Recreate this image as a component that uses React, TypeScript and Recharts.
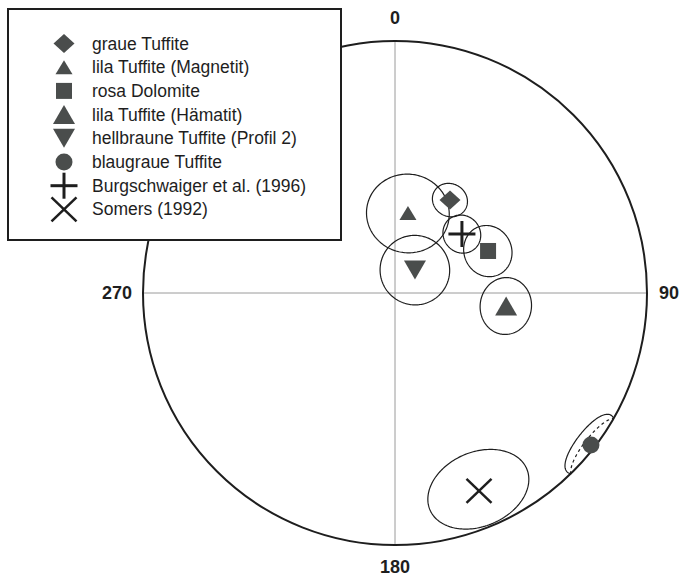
import React from 'react';
import {
  ScatterChart,
  Scatter,
  XAxis,
  YAxis,
  ReferenceLine,
  ReferenceDot,
  Legend,
} from 'recharts';

// paleomagnetic mean directions, equal-area net (lower hemisphere)
const names = [
  'graue Tuffite',
  'lila Tuffite (Magnetit)',
  'rosa Dolomite',
  'lila Tuffite (Hämatit)',
  'hellbraune Tuffite (Profil 2)',
  'blaugraue Tuffite',
  'Burgschwaiger et al. (1996)',
  'Somers (1992)',
];
const declinations = [30.6, 9.2, 65.7, 96.7, 41.0, 127.8, 48.6, 157.0];
const inclinations = [54.7, 63.7, 56.7, 53.4, 80.2, 1.8, 61.0, 15.8];
// confidence cone: dp (along inclination) and dm (along declination), degrees
const dpValues = [5.5, 13.0, 8.0, 8.7, 11.2, 6.5, 6.1, 15.0];
const dmValues = [5.5, 13.0, 8.0, 8.7, 11.2, 8.3, 6.1, 13.5];
const directionLabels = ['0', '90', '180', '270'];

const symbolFor: Record<string, string> = {
  'graue Tuffite': 'diamond',
  'lila Tuffite (Magnetit)': 'triangleSmall',
  'rosa Dolomite': 'square',
  'lila Tuffite (Hämatit)': 'triangle',
  'hellbraune Tuffite (Profil 2)': 'triangleDown',
  'blaugraue Tuffite': 'circle',
  'Burgschwaiger et al. (1996)': 'plus',
  'Somers (1992)': 'x',
};

const W = 681;
const H = 576;
const NET_R = 252;
const CX = 395;
const CY = 293;
const FILL = '#4a4d4c';
const INK = '#1e1e1e';
const FONT = '"Liberation Sans", Arial, sans-serif';

const rad = Math.PI / 180;

// Lambert equal-area, upper hemisphere folded onto the net
function toNet(v: number[]) {
  const h = Math.hypot(v[0], v[1]);
  const colat = Math.acos(Math.min(1, Math.abs(v[2])));
  const r = Math.SQRT2 * Math.sin(colat / 2);
  if (h === 0) return { x: 0, y: 0 };
  return { x: (r * v[1]) / h, y: (r * v[0]) / h };
}

function dirVec(dec: number, inc: number) {
  const D = dec * rad;
  const I = inc * rad;
  return [Math.cos(I) * Math.cos(D), Math.cos(I) * Math.sin(D), Math.sin(I)];
}

function ovalRuns(dec: number, inc: number, dp: number, dm: number) {
  const D = dec * rad;
  const I = inc * rad;
  const m = dirVec(dec, inc);
  const ei = [-Math.sin(I) * Math.cos(D), -Math.sin(I) * Math.sin(D), Math.cos(I)];
  const ed = [-Math.sin(D), Math.cos(D), 0];
  const runs: { upper: boolean; pts: { x: number; y: number }[] }[] = [];
  const steps = 180;
  for (let k = 0; k <= steps; k++) {
    const phi = (k / steps) * 2 * Math.PI;
    const a = dp * rad * Math.cos(phi);
    const b = dm * rad * Math.sin(phi);
    const beta = Math.hypot(a, b);
    const s = beta > 0 ? Math.sin(beta) / beta : 1;
    const v = [0, 1, 2].map(
      (i) => m[i] * Math.cos(beta) + (ei[i] * a + ed[i] * b) * s
    );
    const upper = v[2] < 0;
    const p = toNet(v);
    const last = runs[runs.length - 1];
    if (!last || last.upper !== upper) {
      const prev = last ? last.pts[last.pts.length - 1] : null;
      runs.push({ upper, pts: prev ? [prev, p] : [p] });
    } else {
      last.pts.push(p);
    }
  }
  // merge wrap-around run with the first one
  if (runs.length > 2 && runs[0].upper === runs[runs.length - 1].upper) {
    const tail = runs.pop()!;
    runs[0].pts = tail.pts.concat(runs[0].pts.slice(1));
  }
  return runs;
}

const sites = names.map((name, i) => {
  const p = toNet(dirVec(declinations[i], inclinations[i]));
  return {
    name,
    x: p.x,
    y: p.y,
    dec: declinations[i],
    inc: inclinations[i],
    dp: dpValues[i],
    dm: dmValues[i],
  };
});

function Marker({ type, x, y }: { type: string; x: number; y: number }) {
  switch (type) {
    case 'diamond':
      return (
        <polygon
          points={`${x},${y - 9.5} ${x + 10.5},${y} ${x},${y + 9.5} ${x - 10.5},${y}`}
          fill={FILL}
        />
      );
    case 'triangleSmall':
      return (
        <polygon
          points={`${x},${y - 7} ${x + 8.5},${y + 7} ${x - 8.5},${y + 7}`}
          fill={FILL}
        />
      );
    case 'triangle':
      return (
        <polygon
          points={`${x},${y - 9.5} ${x + 11},${y + 9.5} ${x - 11},${y + 9.5}`}
          fill={FILL}
        />
      );
    case 'triangleDown':
      return (
        <polygon
          points={`${x},${y + 9.5} ${x + 11},${y - 9.5} ${x - 11},${y - 9.5}`}
          fill={FILL}
        />
      );
    case 'square':
      return <rect x={x - 8} y={y - 8} width={16} height={16} fill={FILL} />;
    case 'circle':
      return <circle cx={x} cy={y} r={8.5} fill={FILL} />;
    case 'plus':
      return (
        <g stroke={INK} strokeWidth={3}>
          <line x1={x - 13.5} y1={y} x2={x + 13.5} y2={y} />
          <line x1={x} y1={y - 13} x2={x} y2={y + 13} />
        </g>
      );
    case 'x':
      return (
        <g stroke={INK} strokeWidth={2.5}>
          <line x1={x - 12.5} y1={y - 12} x2={x + 12.5} y2={y + 12} />
          <line x1={x - 12.5} y1={y + 12} x2={x + 12.5} y2={y - 12} />
        </g>
      );
    default:
      return null;
  }
}

const OvalShape = (props: any) => {
  const { cx, cy, payload } = props;
  if (cx == null || cy == null) return null;
  const runs = ovalRuns(payload.dec, payload.inc, payload.dp, payload.dm);
  return (
    <g>
      {runs.map((run, i) => {
        const d = run.pts
          .map(
            (p, j) =>
              `${j === 0 ? 'M' : 'L'}${(cx + (p.x - payload.x) * NET_R).toFixed(2)},${(
                cy -
                (p.y - payload.y) * NET_R
              ).toFixed(2)}`
          )
          .join(' ');
        return (
          <path
            key={i}
            d={d}
            fill="none"
            stroke={INK}
            strokeWidth={1.2}
            strokeDasharray={run.upper ? '3 3' : undefined}
          />
        );
      })}
    </g>
  );
};

const makeMarkerShape = (type: string) => (props: any) => {
  const { cx, cy } = props;
  if (cx == null || cy == null) return null;
  return <Marker type={type} x={cx} y={cy} />;
};

const LegendBox = () => (
  <div
    style={{
      width: 331,
      height: 229,
      border: `2px solid ${INK}`,
      background: '#fff',
    }}
  >
    <svg width={331} height={229}>
      {names.map((name, i) => {
        const y = 33.5 + i * 23.7;
        return (
          <g key={name}>
            <Marker type={symbolFor[name]} x={55} y={y} />
            <text
              x={83}
              y={y}
              dominantBaseline="central"
              fontSize={17.5}
              fontFamily={FONT}
              fill={INK}
            >
              {name}
            </text>
          </g>
        );
      })}
    </svg>
  </div>
);

const labelStyle = { fill: INK, fontSize: 18, fontWeight: 'bold', fontFamily: FONT };

export default function App() {
  return (
    <div style={{ position: 'absolute', left: 0, top: 0, background: '#fff' }}>
      <ScatterChart
        width={W}
        height={H}
        margin={{
          top: CY - NET_R,
          left: CX - NET_R,
          right: W - CX - NET_R,
          bottom: H - CY - NET_R,
        }}
      >
        <XAxis type="number" dataKey="x" domain={[-1, 1]} hide />
        <YAxis type="number" dataKey="y" domain={[-1, 1]} hide />
        <ReferenceLine x={0} stroke="#9a9a9a" strokeWidth={1} />
        <ReferenceLine y={0} stroke="#9a9a9a" strokeWidth={1} />
        <ReferenceDot x={0} y={0} r={NET_R} fill="none" stroke={INK} strokeWidth={2} />
        <ReferenceDot
          x={0}
          y={1}
          r={0}
          fill="none"
          stroke="none"
          label={{ value: directionLabels[0], position: 'top', offset: 17, ...labelStyle }}
        />
        <ReferenceDot
          x={1}
          y={0}
          r={0}
          fill="none"
          stroke="none"
          label={{ value: directionLabels[1], position: 'right', offset: 12, ...labelStyle }}
        />
        <ReferenceDot
          x={0}
          y={-1}
          r={0}
          fill="none"
          stroke="none"
          label={{ value: directionLabels[2], position: 'bottom', offset: 15, ...labelStyle }}
        />
        <ReferenceDot
          x={-1}
          y={0}
          r={0}
          fill="none"
          stroke="none"
          label={{ value: directionLabels[3], position: 'left', offset: 11, ...labelStyle }}
        />
        <Scatter
          name="confidence"
          data={sites}
          shape={OvalShape}
          legendType="none"
          isAnimationActive={false}
        />
        {sites.map((s) => (
          <Scatter
            key={s.name}
            name={s.name}
            data={[s]}
            shape={makeMarkerShape(symbolFor[s.name])}
            isAnimationActive={false}
          />
        ))}
        <Legend
          layout="vertical"
          align="center"
          verticalAlign="middle"
          content={<LegendBox />}
          wrapperStyle={{ left: 7, top: 8, width: 335, height: 233 }}
        />
      </ScatterChart>
    </div>
  );
}
